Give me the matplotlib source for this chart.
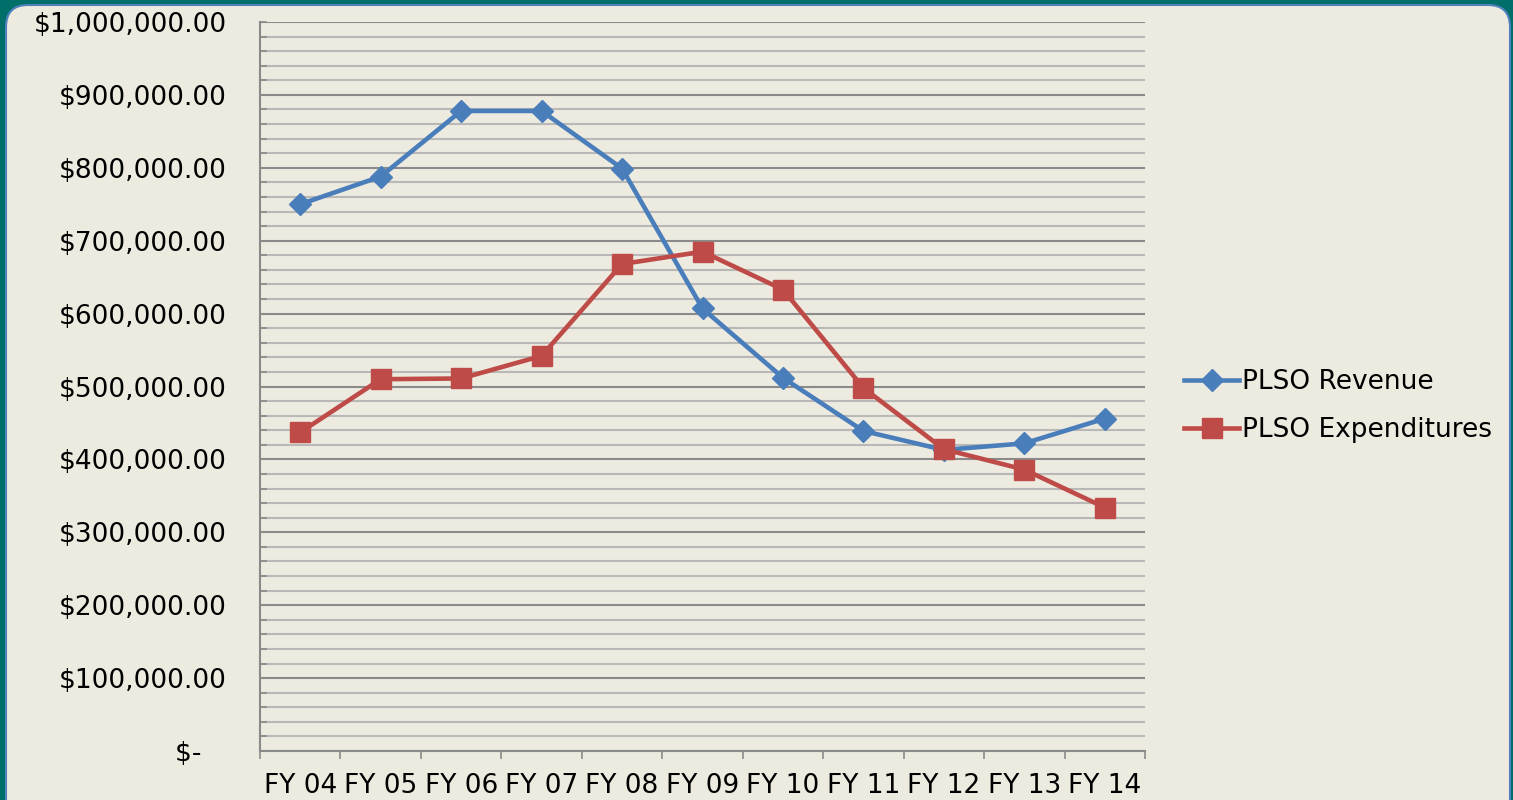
import numpy as np
import matplotlib
matplotlib.use("Agg")
import matplotlib.pyplot as plt
from matplotlib.patches import FancyBboxPatch
from matplotlib.ticker import FuncFormatter, MultipleLocator, FixedLocator
from matplotlib.transforms import IdentityTransform

# values
years = ['FY 04', 'FY 05', 'FY 06', 'FY 07', 'FY 08', 'FY 09',
         'FY 10', 'FY 11', 'FY 12', 'FY 13', 'FY 14']
revenue = [750000, 788000, 878000, 878000, 799000, 607000,
           512000, 439000, 413000, 422000, 456000]
expenditures = [437000, 510000, 511000, 542000, 668000, 685000,
                633000, 498000, 414000, 386000, 334000]

c_rev = '#4A7EBB'
c_exp = '#BE4B48'
bg = '#EDEBE0'
teal = '#006E69'

plt.rcParams['font.family'] = ['DejaVu Sans']
fs = 19

fig = plt.figure(figsize=(15.13, 8.0), dpi=100)
fig.patch.set_facecolor(teal)

# rounded beige panel (pixel coordinates)
panel = FancyBboxPatch((6, -40), 1504, 835, boxstyle="round,pad=0,rounding_size=22",
                       facecolor=bg, edgecolor='#4F81BD', linewidth=1.5,
                       transform=IdentityTransform(), zorder=-10)
fig.patches.append(panel)

ax = fig.add_axes([260 / 1513, 1 - 751 / 800, 885 / 1513, 729 / 800])
ax.set_facecolor('none')

x = np.arange(len(years))
ax.plot(x, revenue, color=c_rev, lw=3.3, marker='D', markersize=11,
        label='PLSO Revenue', zorder=3, solid_joinstyle='round')
ax.plot(x, expenditures, color=c_exp, lw=3.3, marker='s', markersize=14.5,
        label='PLSO Expenditures', zorder=3, solid_joinstyle='round')

ax.set_xlim(-0.5, len(years) - 0.5)
ax.set_ylim(0, 1000000)

# y axis: major every 100k, minor every 20k
ax.yaxis.set_major_locator(MultipleLocator(100000))
ax.yaxis.set_minor_locator(MultipleLocator(20000))

def money(v, pos):
    if v == 0:
        return '$-   '
    return '${:,.2f}'.format(v)

ax.yaxis.set_major_formatter(FuncFormatter(money))
ax.grid(axis='y', which='major', color='#8A8A8A', lw=1.5, zorder=0)
ax.grid(axis='y', which='minor', color='#B8B8B6', lw=1.5, zorder=0)
ax.tick_params(axis='y', which='both', direction='in', length=5, width=1.2,
               color='#8A8A8A', labelsize=fs, pad=24)

# x axis: ticks between categories, labels centered
ax.xaxis.set_major_locator(FixedLocator(np.arange(-0.5, len(years), 1.0)))
ax.xaxis.set_minor_locator(FixedLocator(x))
ax.set_xticklabels([])
ax.set_xticklabels(years, minor=True)
ax.tick_params(axis='x', which='major', direction='out', length=5.5, width=1.2,
               color='#8A8A8A')
ax.tick_params(axis='x', which='minor', length=0, labelsize=fs, pad=16)

for s in ['top', 'right']:
    ax.spines[s].set_visible(False)
for s in ['left', 'bottom']:
    ax.spines[s].set_color('#8A8A8A')
    ax.spines[s].set_linewidth(1.5)

fig.legend(loc='center left', bbox_to_anchor=(1184 / 1513, 1 - 406 / 800),
           frameon=False, fontsize=fs, handlelength=2.1, handletextpad=0.1,
           labelspacing=0.85, borderpad=0, borderaxespad=0)

fig.savefig('out.png', dpi=100, facecolor=fig.get_facecolor())
